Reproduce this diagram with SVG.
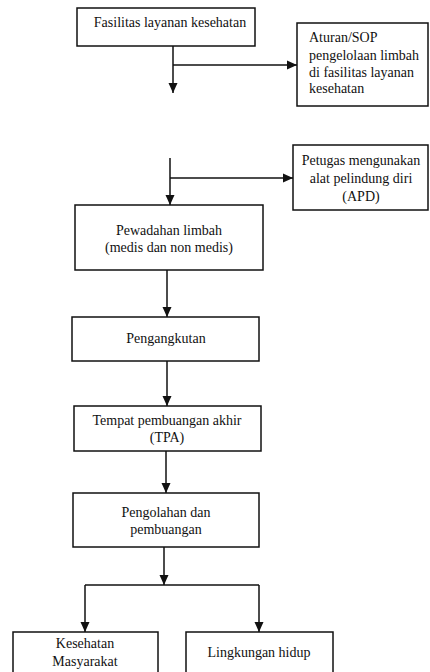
<svg xmlns="http://www.w3.org/2000/svg" width="430" height="672" viewBox="0 0 430 672">
<style>
.box{fill:#fff;stroke:#111;stroke-width:1.5}
.ln{fill:none;stroke:#111;stroke-width:1.5}
.t{font-family:'Liberation Serif','DejaVu Serif',serif;font-size:14px;fill:#111}
.c{text-anchor:middle}
</style>
<defs>
<marker id="ah" markerUnits="userSpaceOnUse" markerWidth="10" markerHeight="10" viewBox="0 0 10 10" refX="10" refY="5" orient="auto">
<path d="M0,0.5 L10,5 L0,9.5 Z" fill="#111"/>
</marker>
</defs>
<g id="connectors">
<path class="ln" d="M173,46 V93" marker-end="url(#ah)"/>
<path class="ln" d="M173,65 H297" marker-end="url(#ah)"/>
<path class="ln" d="M170,158 V205" marker-end="url(#ah)"/>
<path class="ln" d="M170,178 H293" marker-end="url(#ah)"/>
<path class="ln" d="M167,270 V317" marker-end="url(#ah)"/>
<path class="ln" d="M167,361 V406" marker-end="url(#ah)"/>
<path class="ln" d="M166,451 V493" marker-end="url(#ah)"/>
<path class="ln" d="M164,547 V585" marker-end="url(#ah)"/>
<path class="ln" d="M85,585 H259"/>
<path class="ln" d="M85,585 V632" marker-end="url(#ah)"/>
<path class="ln" d="M259,585 V632" marker-end="url(#ah)"/>
</g>
<g id="fasilitas">
<rect class="box" x="77" y="8" width="178" height="38"/>
<text class="t c" x="170" y="27">Fasilitas layanan kesehatan</text>
</g>
<g id="aturan">
<rect class="box" x="297" y="23" width="131" height="83"/>
<text class="t" x="309" y="42">Aturan/SOP</text>
<text class="t" x="309" y="60">pengelolaan limbah</text>
<text class="t" x="309" y="77">di fasilitas layanan</text>
<text class="t" x="309" y="93">kesehatan</text>
</g>
<g id="petugas">
<rect class="box" x="293" y="145" width="135" height="65"/>
<text class="t c" x="361" y="165">Petugas mengunakan</text>
<text class="t c" x="361" y="183">alat pelindung diri</text>
<text class="t c" x="361" y="201">(APD)</text>
</g>
<g id="pewadahan">
<rect class="box" x="75" y="205" width="188" height="65"/>
<text class="t c" x="169" y="235">Pewadahan limbah</text>
<text class="t c" x="169" y="252">(medis dan non medis)</text>
</g>
<g id="pengangkutan">
<rect class="box" x="72" y="317" width="187" height="44"/>
<text class="t c" x="166" y="343">Pengangkutan</text>
</g>
<g id="tpa">
<rect class="box" x="74" y="406" width="187" height="45"/>
<text class="t c" x="167" y="425">Tempat pembuangan akhir</text>
<text class="t c" x="167" y="442">(TPA)</text>
</g>
<g id="pengolahan">
<rect class="box" x="73" y="493" width="186" height="54"/>
<text class="t c" x="166" y="517">Pengolahan dan</text>
<text class="t c" x="166" y="534">pembuangan</text>
</g>
<g id="kesehatan">
<rect class="box" x="13" y="632" width="145" height="50"/>
<text class="t c" x="85" y="648">Kesehatan</text>
<text class="t c" x="85" y="666">Masyarakat</text>
</g>
<g id="lingkungan">
<rect class="box" x="186" y="632" width="147" height="50"/>
<text class="t c" x="259" y="657">Lingkungan hidup</text>
</g>
</svg>
